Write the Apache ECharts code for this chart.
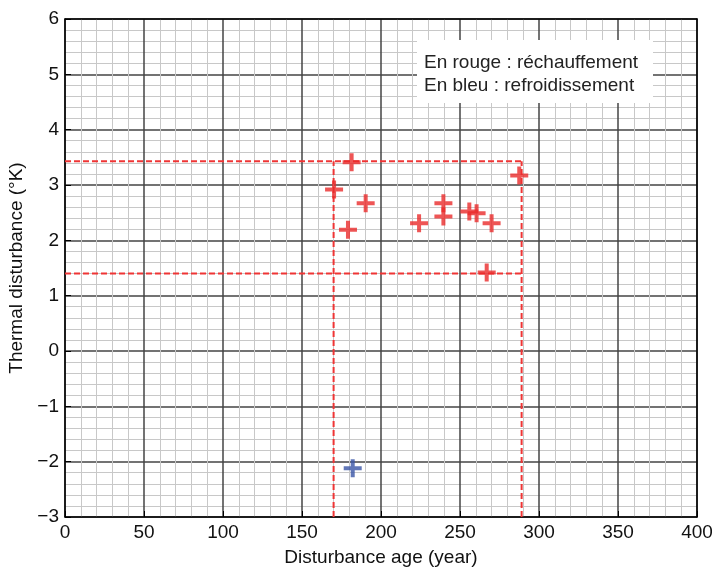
<!DOCTYPE html>
<html>
<head>
<meta charset="utf-8">
<script src="https://cdn.jsdelivr.net/npm/echarts@6/dist/echarts.min.js"></script>
<style>html,body{margin:0;padding:0;background:#fff}#c{width:712px;height:571px}</style>
</head>
<body>
<div id="c"></div>
<script>
// Data
var redX = [181.4, 170.3, 190.3, 179.1, 224.1, 239.5, 239.5, 255.9, 260.5, 270.0, 287.5, 266.9];
var redY = [3.41, 2.92, 2.67, 2.19, 2.31, 2.67, 2.43, 2.52, 2.49, 2.31, 3.17, 1.42];
var blueX = [182.1];
var blueY = [-2.12];
var boundsX = [170, 289];
var boundsY = [1.40, 3.43];
var xTicks = [0, 50, 100, 150, 200, 250, 300, 350, 400];
var yTicks = [-3, -2, -1, 0, 1, 2, 3, 4, 5, 6];
var legendLines = ['En rouge : réchauffement', 'En bleu : refroidissement'];
var xTitle = 'Disturbance age (year)';
var yTitle = 'Thermal disturbance (°K)';

var FONT = '"Liberation Sans", Arial, Helvetica, sans-serif';
var FS = 19;
var plus = 'path://M7,0H11V7H18V11H11V18H7V11H0V7H7Z';
function pts(xs, ys){ return xs.map(function(x,i){ return [x, ys[i]]; }); }

var xMin = xTicks[0], xMax = xTicks[xTicks.length-1];
var yMin = yTicks[0], yMax = yTicks[yTicks.length-1];
var dashStyle = {color:'#ef3535', width:2, type:[6,3]};
var dashLines = [
  [[xMin, boundsY[1]], [boundsX[1], boundsY[1]]],
  [[xMin, boundsY[0]], [boundsX[1], boundsY[0]]],
  [[boundsX[0], yMin], [boundsX[0], boundsY[1]]],
  [[boundsX[1], yMin], [boundsX[1], boundsY[1]]]
];
var series = dashLines.map(function(d){
  return {type:'line', data:d, symbol:'none', lineStyle:dashStyle, silent:true, z:3, animation:false};
});
series.push({type:'scatter', data:pts(redX, redY), symbol:plus, symbolSize:18, itemStyle:{color:'#ea2b2b'}, z:5, animation:false});
series.push({type:'scatter', data:pts(blueX, blueY), symbol:plus, symbolSize:18, itemStyle:{color:'#3a55a6'}, z:5, animation:false});

var axisLabel = {color:'#111', fontSize:FS, fontFamily:FONT, formatter:function(v){ return String(v).replace('-', '\u2212'); }};
var chart = echarts.init(document.getElementById('c'));
chart.setOption({
  animation:false,
  grid:{left:65, right:15, top:19, bottom:54, outerBoundsMode:'none', containLabel:false},
  xAxis:[{
    type:'value', min:xMin, max:xMax, interval:50, position:'bottom',
    name:xTitle, nameLocation:'middle', nameGap:31,
    nameTextStyle:{color:'#111', fontSize:FS, fontFamily:FONT},
    axisLine:{show:true, onZero:false, lineStyle:{color:'#000', width:1.5}},
    axisTick:{show:true, inside:true, length:6, lineStyle:{color:'#000'}},
    minorTick:{show:false, splitNumber:5},
    axisLabel:Object.assign({margin:6}, axisLabel),
    splitLine:{show:true, lineStyle:{color:'#454545', width:1.5}},
    minorSplitLine:{show:true, lineStyle:{color:'#c8c8c8', width:1}}
  },{
    type:'value', min:xMin, max:xMax, interval:50, position:'top',
    axisLine:{show:true, onZero:false, lineStyle:{color:'#000', width:1.5}},
    axisTick:{show:false}, axisLabel:{show:false}, splitLine:{show:false}
  }],
  yAxis:[{
    type:'value', min:yMin, max:yMax, interval:1, position:'left',
    name:yTitle, nameLocation:'middle', nameGap:34, nameRotate:90,
    nameTextStyle:{color:'#111', fontSize:FS, fontFamily:FONT},
    axisLine:{show:true, onZero:false, lineStyle:{color:'#000', width:1.5}},
    axisTick:{show:true, inside:true, length:6, lineStyle:{color:'#000'}},
    minorTick:{show:false, splitNumber:5},
    axisLabel:Object.assign({margin:6}, axisLabel),
    splitLine:{show:true, lineStyle:{color:'#454545', width:1.5}},
    minorSplitLine:{show:true, lineStyle:{color:'#c8c8c8', width:1}}
  },{
    type:'value', min:yMin, max:yMax, interval:1, position:'right',
    axisLine:{show:true, onZero:false, lineStyle:{color:'#000', width:1.5}},
    axisTick:{show:false}, axisLabel:{show:false}, splitLine:{show:false}
  }],
  series:series,
  graphic:{elements:[
    {type:'rect', x:417, y:40, z:100, zlevel:1, shape:{x:0, y:0, width:236, height:63}, style:{fill:'#ffffff'}},
    {type:'text', x:424, y:63, z:101, zlevel:1, style:{text:legendLines[0], fill:'#222', font:FS + 'px ' + FONT, verticalAlign:'middle'}},
    {type:'text', x:424, y:86, z:101, zlevel:1, style:{text:legendLines[1], fill:'#222', font:FS + 'px ' + FONT, verticalAlign:'middle'}}
  ]}
});
</script>
</body>
</html>
